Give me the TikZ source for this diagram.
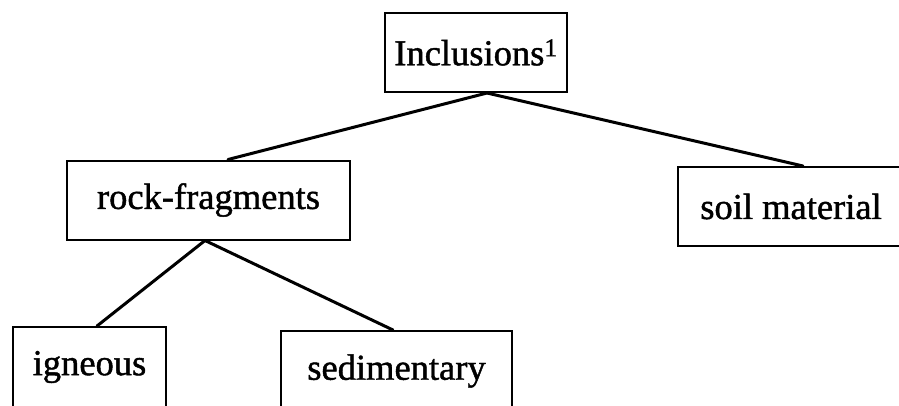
\documentclass[tikz,border=0pt]{standalone}
\usepackage{fontspec}
\setmainfont{Liberation Serif}
\newfontfamily\boxfont[FakeBold=1.2]{Liberation Serif}
\usetikzlibrary{calc}
\begin{document}
\begin{tikzpicture}[x=1pt,y=-1pt,
  box/.style={draw, line width=2pt, rectangle, inner sep=0pt,
    font=\boxfont\fontsize{36.5}{40}\selectfont, minimum height=79pt},
  link/.style={line width=3pt, line cap=round}]
  \useasboundingbox (0,0) rectangle (899,405);
  \clip (0,0) rectangle (899,405);
  \fill[white] (0,0) rectangle (899,405);

  % classification boxes
  \node[box, minimum width=182pt] (inc) at (476,52.5) {Inclusions\textsuperscript{1}};
  \node[box, minimum width=283pt] (rock) at (208.5,200) {rock-fragments};
  \node[box, minimum width=226pt] (soil) at (791,206.5) {soil material};
  \node[box, minimum width=153pt, minimum height=80pt] (ign) at (89.5,367) {igneous};
  \node[box, minimum width=231pt, minimum height=80pt] (sed) at (396.5,371) {sedimentary};

  % branch points on the box edges
  \coordinate (incj) at ($(inc.south)+(11,0)$);
  \coordinate (rocktop) at ($(rock.north)+(19.5,0)$);
  \coordinate (soiltop) at ($(soil.north)+(12,0)$);
  \coordinate (rockj) at ($(rock.south)+(-3.5,0)$);
  \coordinate (igntop) at ($(ign.north)+(7.5,0)$);
  \coordinate (sedtop) at ($(sed.north)+(-3.5,0)$);

  % tree connectors
  \draw[link] (incj) -- (rocktop);
  \draw[link] (incj) -- (soiltop);
  \draw[link] (rockj) -- (igntop);
  \draw[link] (rockj) -- (sedtop);
\end{tikzpicture}
\end{document}
